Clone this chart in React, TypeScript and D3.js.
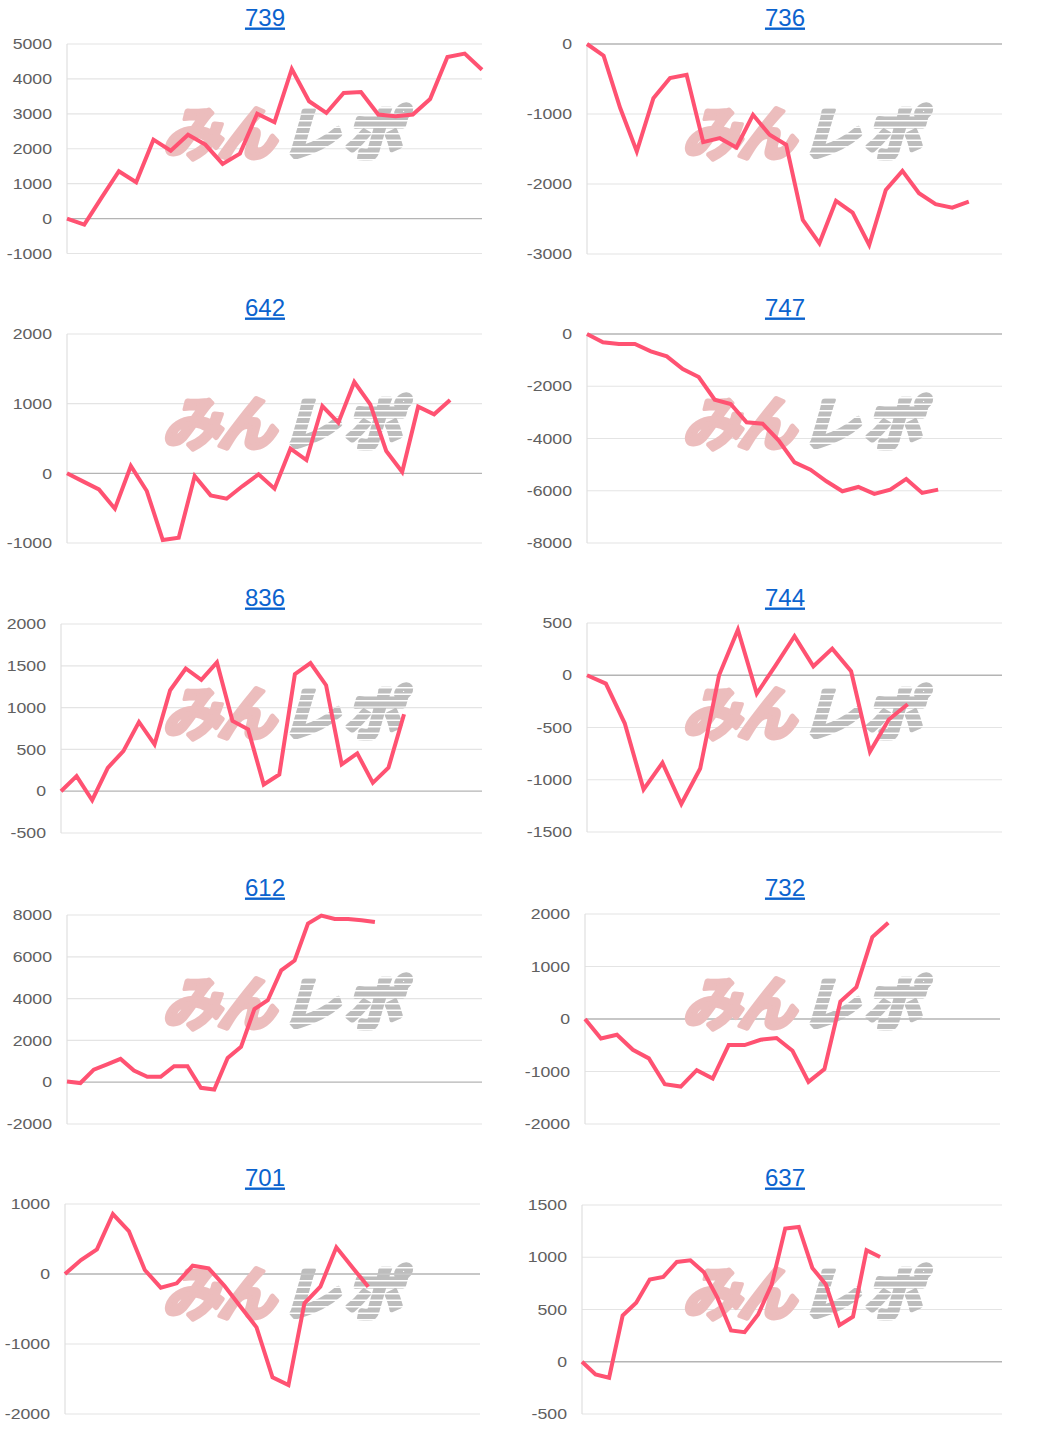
import React from "react";
import * as d3 from "d3";

// ---- data ----
const titles = ["739", "736", "642", "747", "836", "744", "612", "732", "701", "637"];

const s739 = [0, -170, 600, 1355, 1040, 2260, 1945, 2400, 2120, 1565, 1860, 3005, 2760, 4285, 3360, 3025, 3600, 3625, 2980, 2930, 2980, 3425, 4630, 4725, 4265];
const s736 = [0, -167, -915, -1535, -773, -486, -439, -1402, -1345, -1478, -1011, -1297, -1440, -2513, -2847, -2241, -2408, -2871, -2084, -1812, -2132, -2289, -2337, -2251];
const s642 = [0, -115, -230, -507, 105, -254, -957, -923, -38, -316, -364, -182, -14, -220, 354, 191, 966, 727, 1311, 990, 321, 19, 957, 847, 1053];
const s747 = [0, -319, -383, -383, -663, -855, -1339, -1645, -2513, -2679, -3380, -3431, -4069, -4911, -5191, -5638, -6020, -5855, -6122, -5957, -5548, -6084, -5957];
const s836 = [0, 180, -108, 280, 480, 828, 560, 1208, 1468, 1332, 1540, 840, 740, 80, 200, 1400, 1532, 1268, 320, 452, 100, 280, 920];
const s744 = [0, -80, -460, -1092, -838, -1232, -892, 0, 436, -175, 95, 373, 86, 255, 38, -732, -424, -277];
const s612 = [30, -40, 600, 850, 1115, 560, 255, 255, 765, 765, -270, -350, 1160, 1690, 3500, 3920, 5350, 5820, 7590, 7970, 7810, 7810, 7745, 7660];
const s732 = [0, -370, -300, -586, -750, -1242, -1287, -975, -1134, -497, -497, -395, -363, -605, -1197, -955, 331, 605, 1560, 1834];
const s701 = [0, 200, 352, 857, 614, 57, -195, -133, 119, 81, -171, -467, -762, -1476, -1586, -419, -181, 381, 95, -181];
const s637 = [0, -121, -153, 443, 564, 787, 812, 955, 971, 856, 611, 299, 283, 452, 739, 1274, 1290, 898, 739, 350, 430, 1067, 1003];

const series = [s739, s736, s642, s747, s836, s744, s612, s732, s701, s637];

// number of x slots (days) on each chart's horizontal axis
const slotCounts = [25, 26, 27, 27, 28, 23, 32, 27, 27, 32];

const ticks739 = [5000, 4000, 3000, 2000, 1000, 0, -1000];
const ticks736 = [0, -1000, -2000, -3000];
const ticks642 = [2000, 1000, 0, -1000];
const ticks747 = [0, -2000, -4000, -6000, -8000];
const ticks836 = [2000, 1500, 1000, 500, 0, -500];
const ticks744 = [500, 0, -500, -1000, -1500];
const ticks612 = [8000, 6000, 4000, 2000, 0, -2000];
const ticks732 = [2000, 1000, 0, -1000, -2000];
const ticks701 = [1000, 0, -1000, -2000];
const ticks637 = [1500, 1000, 500, 0, -500];

const tickSets = [ticks739, ticks736, ticks642, ticks747, ticks836, ticks744, ticks612, ticks732, ticks701, ticks637];

// ---- layout (not data) ----
const W = 1040;
const H = 1450;
const PANEL_W = 520;
const PANEL_H = 290;
const plotLeft = [67, 67, 67, 67, 61, 67, 67, 65, 65, 62];
const plotRight = [482, 482, 482, 482, 482, 482, 482, 480, 480, 482];
const plotTop = [44, 44, 44, 44, 44, 43, 45, 44, 44, 45];
const plotBottom = [253.5, 254, 253, 253, 253, 252, 254, 254, 254, 254];

const LINE_COLOR = "#ff5272";
const LABEL_FONT = "Arial, 'Liberation Sans', sans-serif";
const WM_FONT = "'Noto Sans CJK JP', sans-serif";

function Watermark() {
  return (
    <g>
      <g transform="skewX(-16)">
        <text
          x={44}
          y={0}
          fontFamily={WM_FONT}
          fontWeight={700}
          fontSize={58}
          fill="#ecbdbd"
          stroke="#ecbdbd"
          strokeWidth={5}
          strokeLinejoin="round"
          letterSpacing={-3}
        >
          みん
        </text>
        <text
          x={162}
          y={0}
          fontFamily={WM_FONT}
          fontWeight={700}
          fontSize={58}
          fill="#bdbdbd"
          stroke="#bdbdbd"
          strokeWidth={5}
          strokeLinejoin="round"
          letterSpacing={5}
          mask="url(#stripes)"
        >
          レポ
        </text>
      </g>
    </g>
  );
}

function Panel({ idx }: { idx: number }) {
  const col = idx % 2;
  const row = Math.floor(idx / 2);
  const ox = col * PANEL_W;
  const oy = row * PANEL_H;
  const data = series[idx];
  const ticks = tickSets[idx];
  const left = plotLeft[idx];
  const right = plotRight[idx];
  const top = plotTop[idx];
  const bottom = plotBottom[idx];

  const x = d3.scaleLinear().domain([0, slotCounts[idx] - 1]).range([left, right]);
  const y = d3
    .scaleLinear()
    .domain([d3.min(ticks) as number, d3.max(ticks) as number])
    .range([bottom, top]);
  const line = d3
    .line<number>()
    .x((_, i) => x(i))
    .y((d) => y(d));

  return (
    <g transform={`translate(${ox},${oy})`}>
      <text
        x={265}
        y={25.5}
        textAnchor="middle"
        fontFamily={LABEL_FONT}
        fontSize={24}
        fill="#0b63ce"
        textDecoration="underline"
      >
        {titles[idx]}
      </text>
      {ticks.map((t) => (
        <line
          key={"g" + t}
          x1={left}
          x2={right}
          y1={y(t)}
          y2={y(t)}
          stroke={t === 0 ? "#b4b4b4" : "#e4e4e4"}
          strokeWidth={t === 0 ? 1.3 : 1.2}
        />
      ))}
      <line x1={left} x2={left} y1={top} y2={bottom} stroke="#e0e0e0" strokeWidth={1.2} />
      <g transform="translate(118,155)">
        <Watermark />
      </g>
      <path
        d={line(data) || ""}
        fill="none"
        stroke={LINE_COLOR}
        strokeWidth={4}
        strokeLinejoin="miter"
        strokeLinecap="butt"
      />
      {ticks.map((t) => (
        <text
          key={"l" + t}
          transform={`translate(${left - 15},${y(t)}) scale(1.22,1)`}
          textAnchor="end"
          dy="0.36em"
          fontFamily={LABEL_FONT}
          fontSize={14.5}
          fill="#606060"
        >
          {t}
        </text>
      ))}
    </g>
  );
}

export default function App() {
  const stripeYs = d3.range(-48, 8, 6.5);
  return (
    <svg
      width={W}
      height={H}
      style={{ position: "absolute", left: 0, top: 0, background: "#fff" }}
    >
      <defs>
        <mask id="stripes" maskUnits="userSpaceOnUse" x={-100} y={-100} width={500} height={200}>
          <rect x={-100} y={-100} width={500} height={200} fill="#fff" />
          {stripeYs.map((sy, i) => (
            <rect key={i} x={-100} y={sy} width={500} height={1.6} fill="#000" />
          ))}
        </mask>
      </defs>
      <rect width={W} height={H} fill="#fff" />
      {titles.map((_, i) => (
        <Panel key={i} idx={i} />
      ))}
    </svg>
  );
}
